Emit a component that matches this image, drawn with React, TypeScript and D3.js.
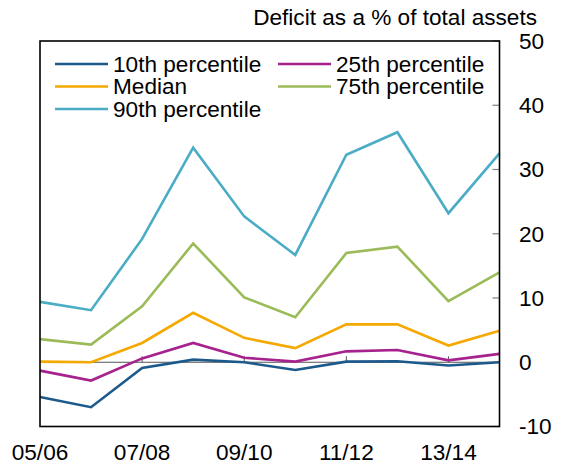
import React from "react";
import * as d3 from "d3";

const categories = ["05/06", "06/07", "07/08", "08/09", "09/10", "10/11", "11/12", "12/13", "13/14", "14/15"];
const tickLabelCats = ["05/06", "07/08", "09/10", "11/12", "13/14"];
const p10 = [-5.4, -7.0, -0.9, 0.4, 0.0, -1.2, 0.1, 0.15, -0.5, 0.0];
const p25 = [-1.3, -2.85, 0.6, 3.0, 0.7, 0.1, 1.7, 1.9, 0.3, 1.3];
const median = [0.1, 0.0, 3.0, 7.7, 3.8, 2.2, 5.9, 5.9, 2.6, 4.9];
const p75 = [3.6, 2.75, 8.7, 18.5, 10.1, 7.0, 17.0, 18.0, 9.5, 14.0];
const p90 = [9.4, 8.1, 19.2, 33.4, 22.7, 16.7, 32.3, 35.8, 23.2, 32.5];
const yTicks = [50, 40, 30, 20, 10, 0, -10];

const series = [
  { name: "10th percentile", values: p10, color: "#1d5a8c" },
  { name: "25th percentile", values: p25, color: "#a6228e" },
  { name: "Median", values: median, color: "#f5a800" },
  { name: "75th percentile", values: p75, color: "#9bbb59" },
  { name: "90th percentile", values: p90, color: "#4aacc5" },
];

const W = 562, H = 469;
const left = 40, right = 499.5, top = 41, bottom = 426.5;
const font = "Liberation Sans, Arial, sans-serif";
const fs = 22.6;

export default function App() {
  const x = d3.scalePoint<string>().domain(categories).range([left, right]);
  const y = d3.scaleLinear().domain([-10, 50]).range([bottom, top]);
  const line = d3
    .line<number>()
    .x((_, i) => x(categories[i]) as number)
    .y((d) => y(d));

  const legendPos = [
    { x: 55, y: 64 },
    { x: 278, y: 64 },
    { x: 55, y: 86.5 },
    { x: 278, y: 86.5 },
    { x: 55, y: 109 },
  ];

  return (
    <svg width={W} height={H} style={{ position: "absolute", left: 0, top: 0 }} fontFamily={font}>
      <rect x={0} y={0} width={W} height={H} fill="#ffffff" />
      <text x={537} y={17} dy="0.35em" textAnchor="end" fontSize={fs} fill="#000">
        Deficit as a % of total assets
      </text>
      {/* zero line */}
      <line x1={left} x2={right} y1={y(0)} y2={y(0)} stroke="#555" strokeWidth={1.2} />
      {tickLabelCats.slice(1).map((c) => (
        <line key={c} x1={x(c)} x2={x(c)} y1={y(0)} y2={y(0) - 6} stroke="#555" strokeWidth={1} />
      ))}
      {/* right ticks */}
      {yTicks.map((t) => (
        <line key={t} x1={right - 7} x2={right} y1={y(t)} y2={y(t)} stroke="#808080" strokeWidth={1.2} />
      ))}
      {series.map((s) => (
        <path key={s.name} d={line(s.values) || ""} fill="none" stroke={s.color} strokeWidth={2.6} strokeLinejoin="miter" />
      ))}
      <rect x={left} y={top} width={right - left} height={bottom - top} fill="none" stroke="#000" strokeWidth={1.6} />
      {yTicks.map((t) => (
        <text key={t} x={519} y={y(t)} dy="0.35em" fontSize={fs} fill="#000">
          {t}
        </text>
      ))}
      {tickLabelCats.map((c) => (
        <text key={c} x={x(c)} y={460} textAnchor="middle" fontSize={fs} fill="#000">
          {c}
        </text>
      ))}
      {series.map((s, i) => (
        <g key={s.name}>
          <line x1={legendPos[i].x} x2={legendPos[i].x + 53} y1={legendPos[i].y} y2={legendPos[i].y} stroke={s.color} strokeWidth={2.6} />
          <text x={legendPos[i].x + 58} y={legendPos[i].y} dy="0.35em" fontSize={fs} fill="#000">
            {s.name}
          </text>
        </g>
      ))}
    </svg>
  );
}
